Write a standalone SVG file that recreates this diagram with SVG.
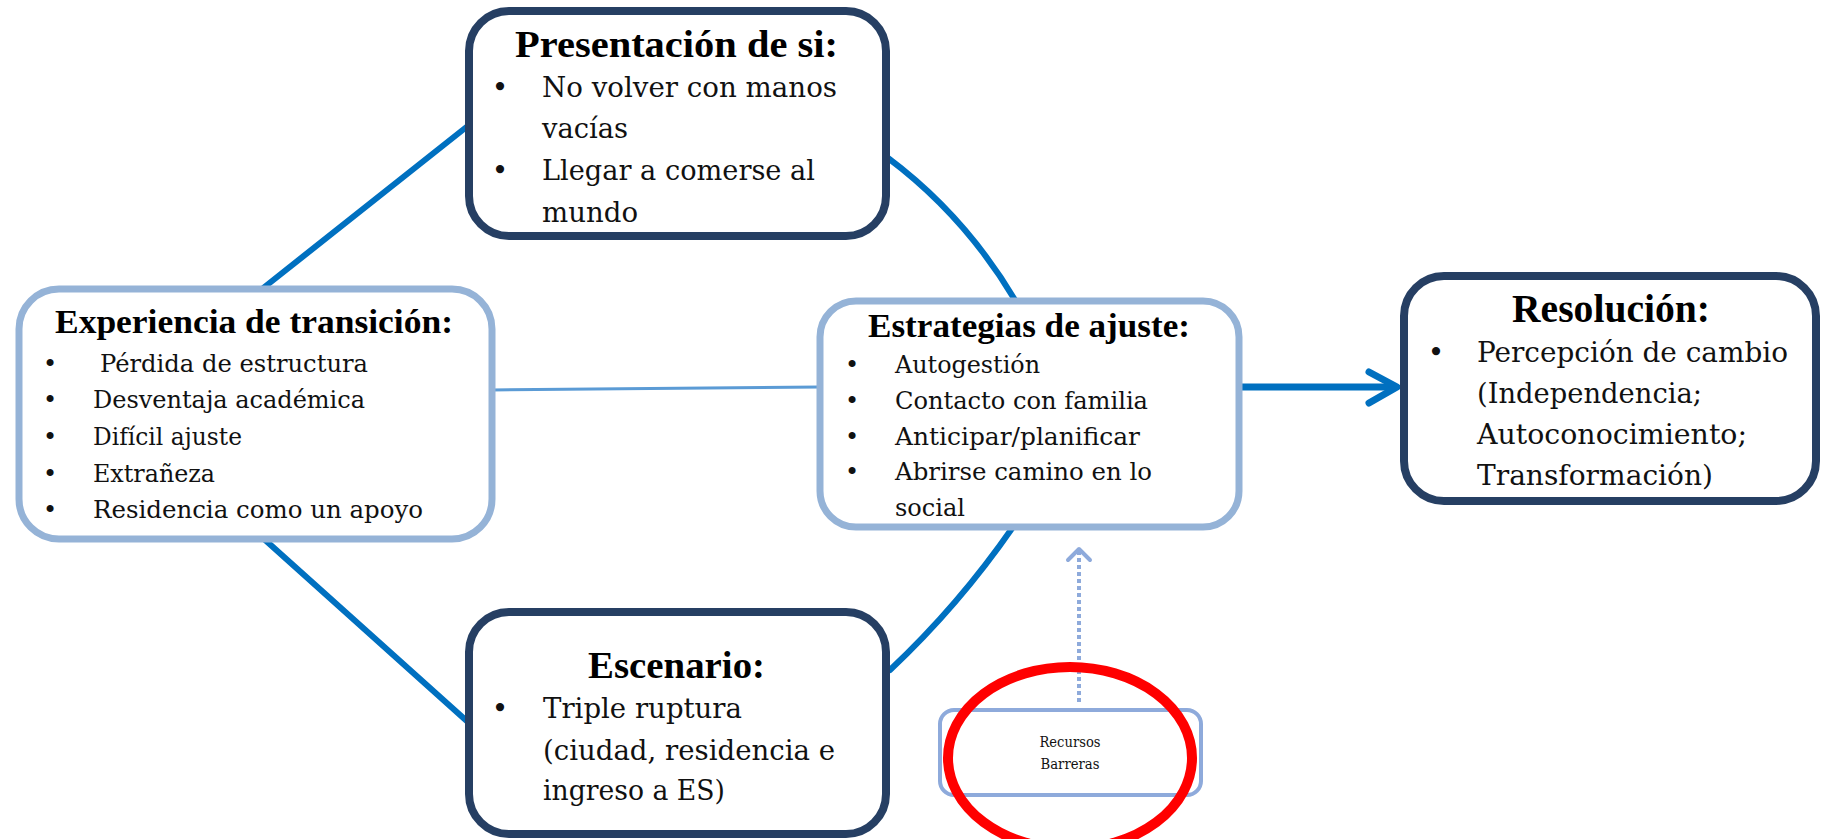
<svg xmlns="http://www.w3.org/2000/svg" width="1822" height="839" viewBox="0 0 1822 839">
<style>
.dark{fill:#fff;stroke:#263f63;stroke-width:8}
.light{fill:#fff;stroke:#95b3d7;stroke-width:7}
.title{font-family:"Liberation Serif","Times New Roman",serif;font-weight:bold;fill:#000}
.b28{font-family:"DejaVu Serif",serif;font-size:28px;fill:#111}
.b24{font-family:"DejaVu Serif",serif;font-size:24px;fill:#111}
.bul{text-anchor:middle}
.con{fill:none;stroke:#0070c0;stroke-width:6;stroke-linecap:round}
</style>
<rect width="1822" height="839" fill="#fff"/>
<g id="connectors">
  <line class="con" x1="262" y1="289" x2="469" y2="125"/>
  <path class="con" d="M888,158 Q964.5,215.3 1015,300"/>
  <line x1="492" y1="390" x2="820" y2="387" stroke="#5b9bd5" stroke-width="3"/>
  <line class="con" x1="264" y1="539" x2="469" y2="723"/>
  <path class="con" d="M1013,527 Q959,605 890,670"/>
  <line x1="1240" y1="387" x2="1396" y2="387" stroke="#0070c0" stroke-width="7"/>
  <polyline points="1369,372 1397,387 1369,403" fill="none" stroke="#0070c0" stroke-width="7" stroke-linecap="round" stroke-linejoin="round"/>
  <line x1="1079" y1="702" x2="1079" y2="552" stroke="#8eaadb" stroke-width="4" stroke-dasharray="4 3"/>
  <polyline points="1068,560 1079,549 1090,560" fill="none" stroke="#8eaadb" stroke-width="4" stroke-linecap="round" stroke-linejoin="round"/>
</g>
<g id="presentacion">
  <rect class="dark" x="469" y="11" width="417" height="225" rx="40"/>
  <text class="title" x="515" y="57" font-size="37" textLength="323" lengthAdjust="spacingAndGlyphs">Presentación de si:</text>
  <text class="b28 bul" x="500" y="97">•</text>
  <text class="b28" x="542" y="97" textLength="295" lengthAdjust="spacingAndGlyphs">No volver con manos</text>
  <text class="b28" x="542" y="138" textLength="86" lengthAdjust="spacingAndGlyphs">vacías</text>
  <text class="b28 bul" x="500" y="180">•</text>
  <text class="b28" x="542" y="180" textLength="273" lengthAdjust="spacingAndGlyphs">Llegar a comerse al</text>
  <text class="b28" x="542" y="222" textLength="96" lengthAdjust="spacingAndGlyphs">mundo</text>
</g>
<g id="experiencia">
  <rect class="light" x="19" y="289" width="473" height="250" rx="40"/>
  <text class="title" x="55" y="333" font-size="33" textLength="398" lengthAdjust="spacingAndGlyphs">Experiencia de transición:</text>
  <text class="b24 bul" x="50" y="372">•</text>
  <text class="b24" x="100" y="372" textLength="268" lengthAdjust="spacingAndGlyphs">Pérdida de estructura</text>
  <text class="b24 bul" x="50" y="408">•</text>
  <text class="b24" x="93" y="408" textLength="272" lengthAdjust="spacingAndGlyphs">Desventaja académica</text>
  <text class="b24 bul" x="50" y="445">•</text>
  <text class="b24" x="93" y="445" textLength="149" lengthAdjust="spacingAndGlyphs">Difícil ajuste</text>
  <text class="b24 bul" x="50" y="482">•</text>
  <text class="b24" x="93" y="482" textLength="122" lengthAdjust="spacingAndGlyphs">Extrañeza</text>
  <text class="b24 bul" x="50" y="518">•</text>
  <text class="b24" x="93" y="518" textLength="330" lengthAdjust="spacingAndGlyphs">Residencia como un apoyo</text>
</g>
<g id="estrategias">
  <rect class="light" x="820" y="301" width="419" height="226" rx="36"/>
  <text class="title" x="868" y="337" font-size="33" textLength="322" lengthAdjust="spacingAndGlyphs">Estrategias de ajuste:</text>
  <text class="b24 bul" x="852" y="373">•</text>
  <text class="b24" x="895" y="373" textLength="145" lengthAdjust="spacingAndGlyphs">Autogestión</text>
  <text class="b24 bul" x="852" y="409">•</text>
  <text class="b24" x="895" y="409" textLength="253" lengthAdjust="spacingAndGlyphs">Contacto con familia</text>
  <text class="b24 bul" x="852" y="445">•</text>
  <text class="b24" x="895" y="445" textLength="245" lengthAdjust="spacingAndGlyphs">Anticipar/planificar</text>
  <text class="b24 bul" x="852" y="480">•</text>
  <text class="b24" x="895" y="480" textLength="257" lengthAdjust="spacingAndGlyphs">Abrirse camino en lo</text>
  <text class="b24" x="895" y="516" textLength="70" lengthAdjust="spacingAndGlyphs">social</text>
</g>
<g id="resolucion">
  <rect class="dark" x="1404" y="276" width="412" height="225" rx="40"/>
  <text class="title" x="1512" y="322" font-size="39" textLength="198" lengthAdjust="spacingAndGlyphs">Resolución:</text>
  <text class="b28 bul" x="1436" y="362">•</text>
  <text class="b28" x="1477" y="362" textLength="311" lengthAdjust="spacingAndGlyphs">Percepción de cambio</text>
  <text class="b28" x="1477" y="403" textLength="225" lengthAdjust="spacingAndGlyphs">(Independencia;</text>
  <text class="b28" x="1477" y="444" textLength="270" lengthAdjust="spacingAndGlyphs">Autoconocimiento;</text>
  <text class="b28" x="1477" y="485" textLength="236" lengthAdjust="spacingAndGlyphs">Transformación)</text>
</g>
<g id="escenario">
  <rect class="dark" x="469" y="612" width="417" height="222" rx="40"/>
  <text class="title" x="588" y="678" font-size="38" textLength="177" lengthAdjust="spacingAndGlyphs">Escenario:</text>
  <text class="b28 bul" x="500" y="718">•</text>
  <text class="b28" x="543" y="718" textLength="199" lengthAdjust="spacingAndGlyphs">Triple ruptura</text>
  <text class="b28" x="543" y="760" textLength="292" lengthAdjust="spacingAndGlyphs">(ciudad, residencia e</text>
  <text class="b28" x="543" y="800" textLength="182" lengthAdjust="spacingAndGlyphs">ingreso a ES)</text>
</g>
<g id="recursos">
  <rect x="940" y="710" width="261" height="85" rx="14" fill="#fff" stroke="#8eaadb" stroke-width="4"/>
  <text x="1070" y="747" font-family="DejaVu Serif, serif" font-size="14" fill="#111" text-anchor="middle" textLength="61" lengthAdjust="spacingAndGlyphs">Recursos</text>
  <text x="1070" y="769" font-family="DejaVu Serif, serif" font-size="14" fill="#111" text-anchor="middle" textLength="59" lengthAdjust="spacingAndGlyphs">Barreras</text>
</g>
<g id="highlight">
  <ellipse cx="1070" cy="758" rx="122" ry="91" fill="none" stroke="#ff0000" stroke-width="10"/>
</g>
</svg>
